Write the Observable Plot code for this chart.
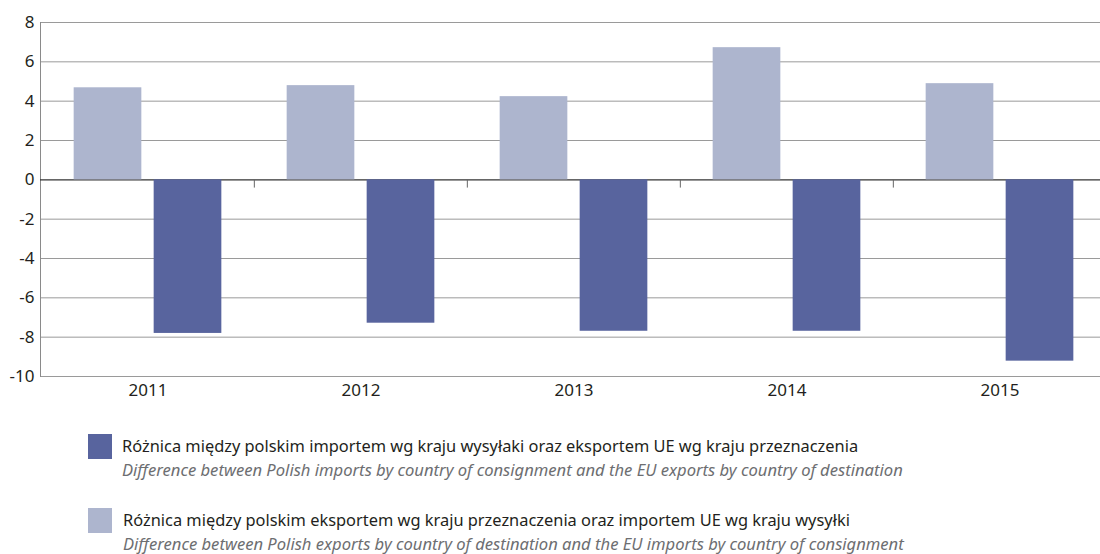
<!DOCTYPE html>
<html>
<head>
<meta charset="utf-8">
<script src="https://cdn.jsdelivr.net/npm/d3@7"></script>
<script src="https://cdn.jsdelivr.net/npm/@observablehq/plot@0.6"></script>
<style>
  html, body { margin: 0; padding: 0; background: #fff; }
  #wrap { position: relative; width: 1100px; height: 554px; overflow: hidden; font-family: "Noto Sans", sans-serif; }
  #chart { position: absolute; left: 0; top: 0; }
  .sw { position: absolute; width: 24px; height: 25px; }
  .lt { position: absolute; white-space: nowrap; font-size: 16.4px; line-height: 24px; }
  .pl { color: #231f20; }
  .en { color: #6d6e71; font-style: italic; font-size: 16.6px; }
</style>
</head>
<body>
<div id="wrap">
  <div id="chart"></div>
  <div class="sw" style="left:88px;top:434px;background:#58649e"></div>
  <div class="lt" style="left:122px;top:434px">
    <div class="pl" id="pl1"></div>
    <div class="en" id="en1"></div>
  </div>
  <div class="sw" style="left:88px;top:508px;background:#adb5ce"></div>
  <div class="lt" style="left:123px;top:508px">
    <div class="pl" id="pl2"></div>
    <div class="en" id="en2"></div>
  </div>
</div>
<script>
const years = ["2011", "2012", "2013", "2014", "2015"];
const importDiff = [-7.81, -7.29, -7.70, -7.70, -9.22];
const exportDiff = [4.68, 4.79, 4.23, 6.72, 4.89];
const yTicks = [-10, -8, -6, -4, -2, 0, 2, 4, 6, 8];
const seriesNames = [
  "Różnica między polskim importem wg kraju wysyłaki oraz eksportem UE wg kraju przeznaczenia",
  "Różnica między polskim eksportem wg kraju przeznaczenia oraz importem UE wg kraju wysyłki"
];
const seriesNamesEn = [
  "Difference between Polish imports by country of consignment and the EU exports by country of destination",
  "Difference between Polish exports by country of destination and the EU imports by country of consignment"
];
const colors = ["#58649e", "#adb5ce"];

const exportData = years.map((y, i) => ({year: y, value: exportDiff[i]}));
const importData = years.map((y, i) => ({year: y, value: importDiff[i]}));

const xStart = 40, step = 213.33;
const bandW = step;
const barW = 68;
const inset = (bandW - barW) / 2;

const chart = Plot.plot({
  width: 1100,
  height: 404,
  marginLeft: 40,
  marginRight: 0,
  marginTop: 22,
  marginBottom: 28,
  style: {fontFamily: "Noto Sans, sans-serif", fontSize: "16px", color: "#231f20", background: "#fff"},
  x: {domain: years, range: [xStart, xStart + step * years.length], padding: 0, label: null},
  y: {domain: [-10, 8], label: null},
  marks: [
    Plot.ruleY(yTicks.filter(d => d !== 0), {stroke: "#9a9a9a", strokeWidth: 1}),
    Plot.frame({anchor: "left", stroke: "#8a8a8a"}),
    Plot.ruleY([0], {stroke: "#333", strokeWidth: 1.2}),
    Plot.ruleX(years.slice(1), {x: d => d, y1: 0, y2: -0.42, dx: -bandW / 2, stroke: "#666"}),
    Plot.barY(exportData, {x: "year", y: "value", fill: colors[1], insetLeft: inset, insetRight: inset, dx: -40}),
    Plot.barY(importData, {x: "year", y: "value", fill: colors[0], insetLeft: inset, insetRight: inset, dx: 40}),
    Plot.axisY({ticks: yTicks, tickSize: 0, tickPadding: 6, fontSize: 17, tickFormat: d => String(d)}),
    Plot.axisX({tickSize: 0, tickPadding: 7, fontSize: 17})
  ]
});
document.getElementById("chart").appendChild(chart);
document.getElementById("pl1").textContent = seriesNames[0];
document.getElementById("en1").textContent = seriesNamesEn[0];
document.getElementById("pl2").textContent = seriesNames[1];
document.getElementById("en2").textContent = seriesNamesEn[1];
</script>
</body>
</html>
